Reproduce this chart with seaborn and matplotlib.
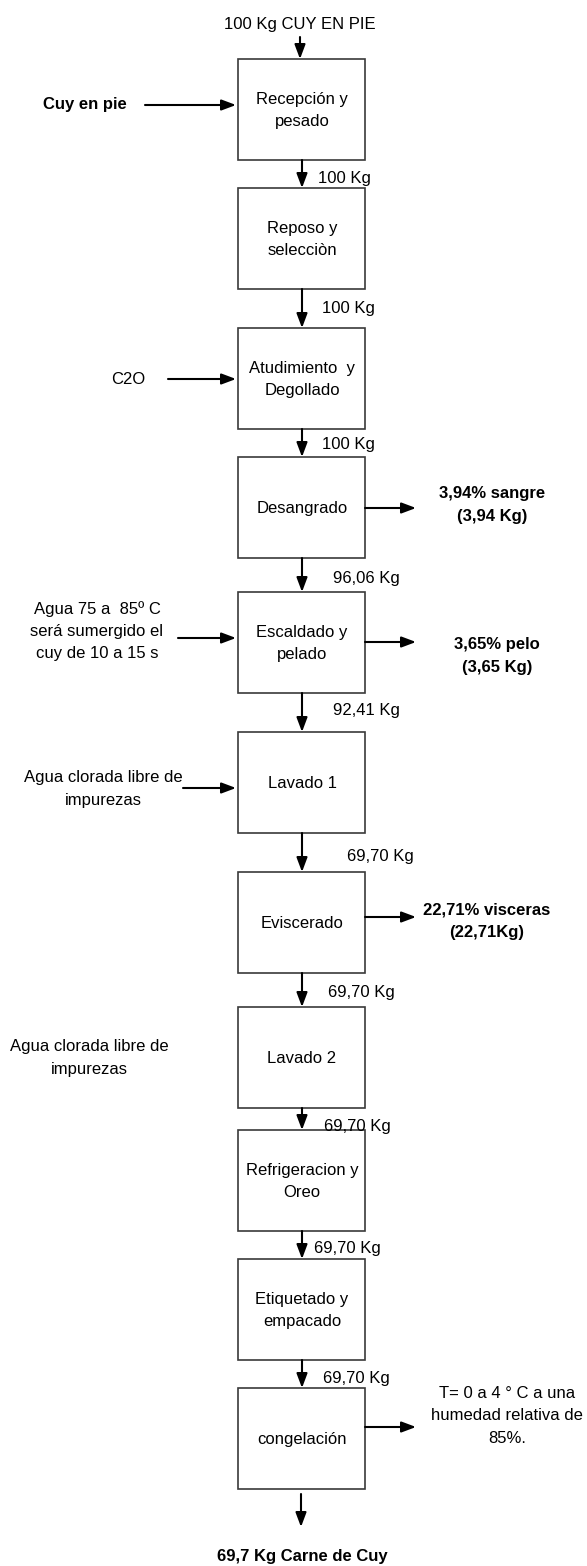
import matplotlib
matplotlib.use("Agg")
import matplotlib.pyplot as plt
import seaborn as sns
from matplotlib.patches import Rectangle

# Datos del diagrama de flujo (beneficio de cuy)
pasos = ["Recepción y\npesado", "Reposo y\nselecciòn", "Atudimiento  y\nDegollado",
         "Desangrado", "Escaldado y\npelado", "Lavado 1", "Eviscerado", "Lavado 2",
         "Refrigeracion y\nOreo", "Etiquetado y\nempacado", "congelación"]
masas = ["100 Kg", "100 Kg", "100 Kg", "96,06 Kg", "92,41 Kg", "69,70 Kg",
         "69,70 Kg", "69,70 Kg", "69,70 Kg", "69,70 Kg"]
entrada_inicial = "100 Kg CUY EN PIE"
producto_final = "69,7 Kg Carne de Cuy"

entrada_paso = [0, 2, 4, 5, 7]
entrada_texto = ["Cuy en pie", "C2O", "Agua 75 a  85º C\nserá sumergido el\ncuy de 10 a 15 s",
                 "Agua clorada libre de\nimpurezas", "Agua clorada libre de\nimpurezas"]
entrada_negrita = [True, False, False, False, False]
entrada_flecha = [True, True, True, True, False]

salida_paso = [3, 4, 6, 10]
salida_texto = ["3,94% sangre\n(3,94 Kg)", "3,65% pelo\n(3,65 Kg)",
                "22,71% visceras\n(22,71Kg)", "T= 0 a 4 ° C a una\nhumedad relativa de\n85%."]
salida_negrita = [True, True, True, False]

# Disposición (pixeles)
caja_sup = [59, 188, 328, 457, 592, 732, 872, 1007, 1130, 1259, 1388]
caja_alto = 101
caja_izq, caja_der = 238, 365
centro_x = 302
masa_x = [318, 322, 322, 333, 333, 347, 328, 324, 314, 323]
masa_y = [178, 308, 444, 578, 711, 856, 992, 1126, 1248, 1378]
ent_txt_x = [85, 128, 97, 103, 89]
ent_txt_y = [104, 379, 631, 789, 1058]
ent_fl_x0 = [145, 168, 178, 183, 0]
ent_fl_y = [105, 379, 638, 788, 0]
sal_txt_x = [492, 497, 487, 507]
sal_txt_y = [505, 656, 921, 1416]
sal_fl_y = [508, 642, 917, 1427]

sns.set_theme(style="white")
plt.rcParams["font.family"] = ["Liberation Sans", "DejaVu Sans"]
plt.rcParams["text.color"] = "black"

fig = plt.figure(figsize=(5.87, 15.66), dpi=100)
ax = fig.add_axes([0, 0, 1, 1])
ax.set_xlim(0, 587)
ax.set_ylim(1566, 0)
ax.axis("off")

fs = 12
ls = 1.6
estilo = dict(arrowstyle="-|>,head_length=0.48,head_width=0.18", color="black",
              lw=1.5, mutation_scale=18, shrinkA=0, shrinkB=0)


def flecha(x0, y0, x1, y1):
    ax.annotate("", xy=(x1, y1), xytext=(x0, y0), arrowprops=estilo)


# Cajas de proceso
for i, paso in enumerate(pasos):
    top = caja_sup[i]
    ax.add_patch(Rectangle((caja_izq, top), caja_der - caja_izq, caja_alto,
                           facecolor="white", edgecolor="#3a3a3a", lw=1.2))
    ax.text(centro_x, top + caja_alto / 2 + 1, paso, ha="center", va="center",
            fontsize=fs, linespacing=ls, color="black")

# Entrada inicial
ax.text(centro_x - 2, 25, entrada_inicial, ha="center", va="center", fontsize=fs,
        color="black")
flecha(centro_x - 2, 37, centro_x - 2, caja_sup[0])

# Flechas entre cajas y masas
for i, m in enumerate(masas):
    flecha(centro_x, caja_sup[i] + caja_alto, centro_x, caja_sup[i + 1])
    ax.text(masa_x[i], masa_y[i], m, ha="left", va="center", fontsize=fs, color="black")

# Entradas laterales
for j, p in enumerate(entrada_paso):
    ax.text(ent_txt_x[j], ent_txt_y[j], entrada_texto[j], ha="center", va="center",
            fontsize=fs, fontweight="bold" if entrada_negrita[j] else "normal",
            linespacing=ls, color="black")
    if entrada_flecha[j]:
        flecha(ent_fl_x0[j], ent_fl_y[j], caja_izq - 2, ent_fl_y[j])

# Salidas laterales
for j, p in enumerate(salida_paso):
    flecha(caja_der, sal_fl_y[j], 416, sal_fl_y[j])
    ax.text(sal_txt_x[j], sal_txt_y[j], salida_texto[j], ha="center", va="center",
            fontsize=fs, fontweight="bold" if salida_negrita[j] else "normal",
            linespacing=ls, color="black")

# Producto final
flecha(centro_x - 1, caja_sup[-1] + caja_alto + 5, centro_x - 1, 1527)
ax.text(centro_x, 1556, producto_final, ha="center", va="center", fontsize=fs,
        fontweight="bold", color="black")

fig.savefig("out.png", dpi=100)
